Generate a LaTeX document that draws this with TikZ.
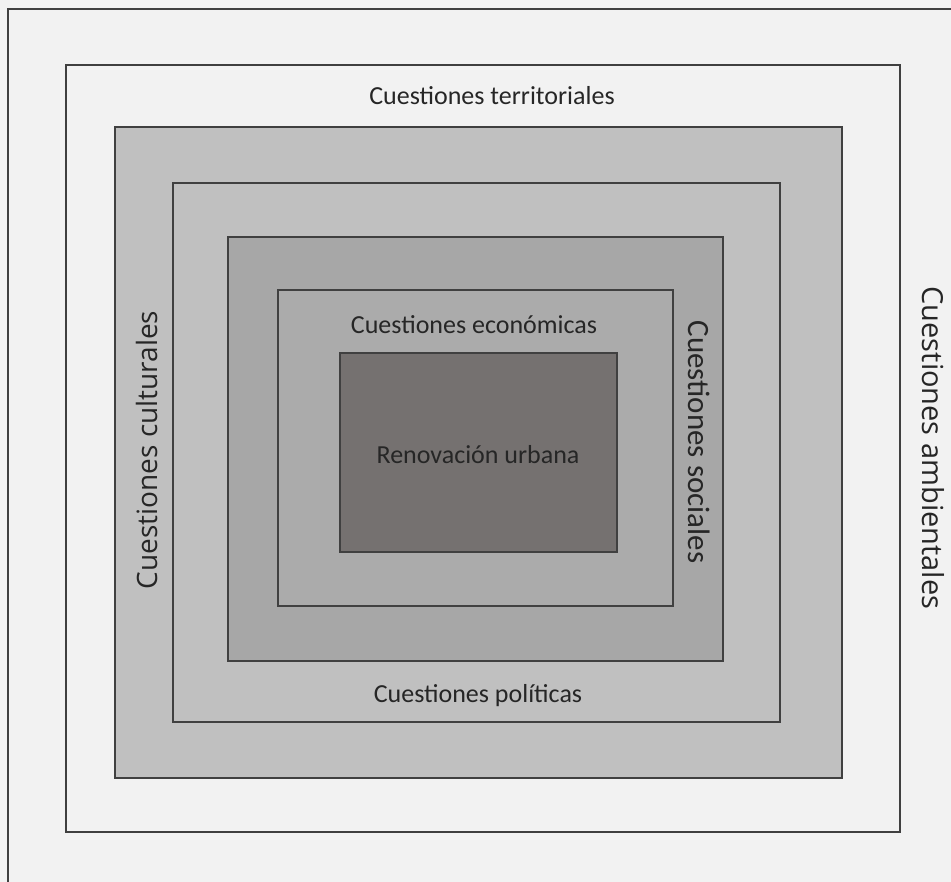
\documentclass[tikz,border=0pt]{standalone}
\usepackage{fontspec}
\setmainfont{Carlito}
\newfontfamily\sidefont{Open Sans}
\begin{document}
\begin{tikzpicture}[x=1pt, y=-1pt,
  frame/.style = {draw = black!75, line width = 1.2pt},
  label/.style = {text = black!85, font = \fontsize{26}{29}\selectfont, inner sep = 0pt},
  sidelabel/.style = {text = black!85, font = \sidefont\fontsize{28}{31}\selectfont, inner sep = 0pt}]
\useasboundingbox (0, 0) rectangle (951, 882);
\fill[black!5] (0, 0) rectangle (951, 882);
\draw[frame] (8, 882) -- (8, 9) -- (951, 9);
% nested boxes, outermost first
\definecolor{col}{HTML}{F2F2F2}
\filldraw[col, frame] (66, 65) rectangle (900, 832);
\definecolor{col}{HTML}{C0C0C0}
\filldraw[col, frame] (115, 127) rectangle (842, 778);
\definecolor{col}{HTML}{C0C0C0}
\filldraw[col, frame] (173, 183) rectangle (780, 722);
\definecolor{col}{HTML}{A7A7A7}
\filldraw[col, frame] (228, 237) rectangle (723, 661);
\definecolor{col}{HTML}{ABABAB}
\filldraw[col, frame] (278, 290) rectangle (673, 606);
\definecolor{col}{HTML}{757170}
\filldraw[col, frame] (340, 353) rectangle (617, 552);
% texts
\node[label] (territoriales) at (492, 96) {Cuestiones territoriales};
\node[label] (economicas) at (474, 325) {Cuestiones económicas};
\node[label] (renovacion) at (478, 455) {Renovación urbana};
\node[label] (politicas) at (478, 696) {Cuestiones políticas};
\node[label, font = \fontsize{31}{34}\selectfont, rotate = -90] (sociales) at (699, 442) {Cuestiones sociales};
\node[sidelabel, rotate = 90] (culturales) at (147, 450) {Cuestiones culturales};
\node[sidelabel, font = \sidefont\fontsize{29}{32}\selectfont, rotate = -90] (ambientales) at (933, 448) {Cuestiones ambientales};
\end{tikzpicture}
\end{document}
